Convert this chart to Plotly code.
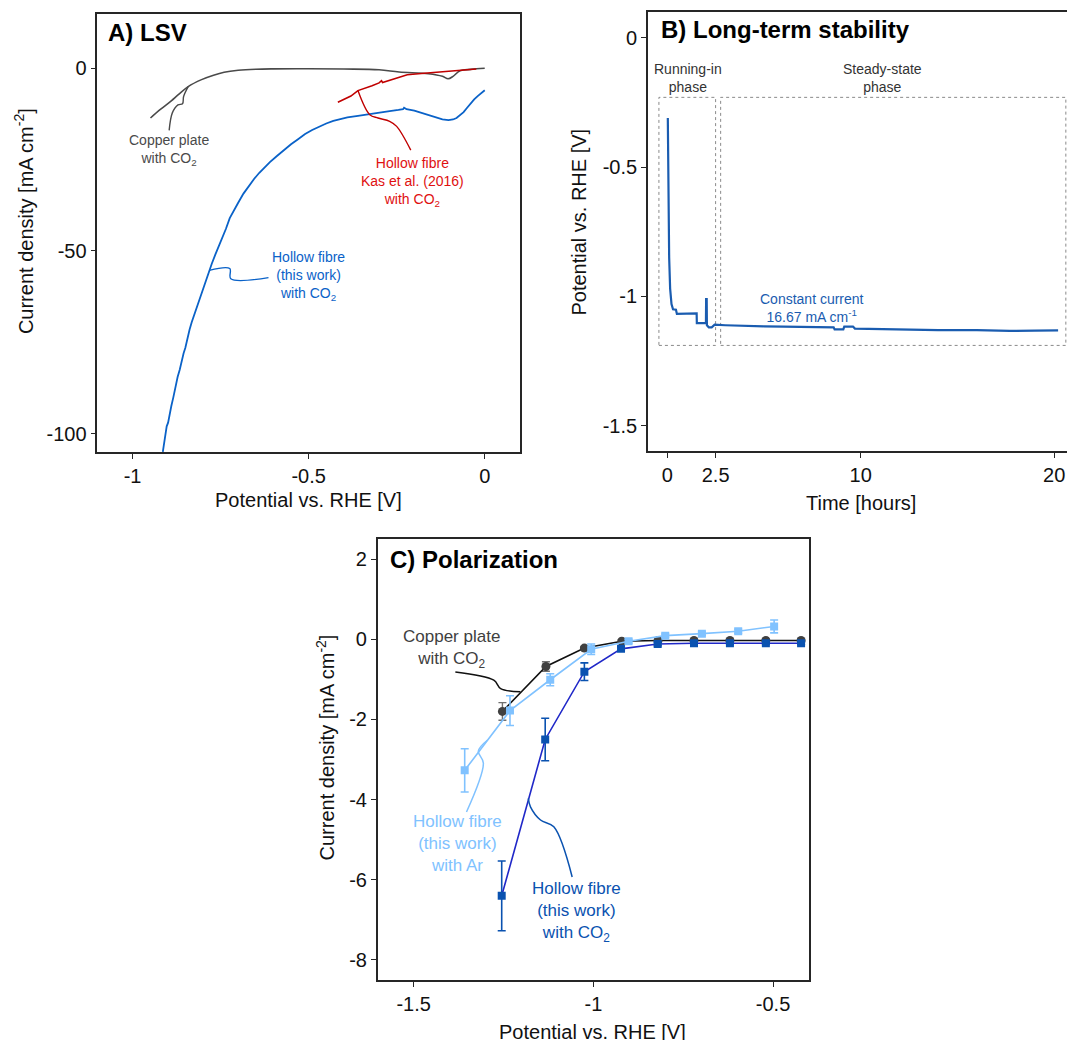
import plotly.graph_objects as go

FONT = "Liberation Sans, Arial, sans-serif"

# ---------------- Panel A: LSV ----------------
lsv_cu_x = [-0.949, -0.92, -0.89, -0.87, -0.842, -0.804, -0.77, -0.74, -0.70, -0.65, -0.60, -0.50,
            -0.40, -0.30, -0.243, -0.16, -0.12, -0.104, -0.09, -0.07, -0.04, 0.0]
lsv_cu_y = [-13.6, -11.2, -8.9, -7.2, -5.0, -3.1, -1.9, -1.1, -0.55, -0.25, -0.15, -0.1,
            -0.2, -0.4, -1.0, -1.5, -2.2, -2.85, -2.2, -0.66, -0.3, 0.0]

lsv_kas_x = [-0.417, -0.40, -0.38, -0.36, -0.34, -0.32, -0.30, -0.293, -0.29, -0.26, -0.24, -0.22,
             -0.18, -0.147, -0.11, -0.08, -0.05, -0.024]
lsv_kas_y = [-9.3, -8.6, -7.6, -6.1, -5.5, -4.8, -4.0, -3.4, -3.9, -3.0, -2.2, -1.75,
             -1.4, -1.1, -0.9, -0.66, -0.4, -0.2]

lsv_hf_x = [-0.914, -0.910, -0.906, -0.903, -0.899, -0.895, -0.890, -0.884, -0.878, -0.872, -0.866,
            -0.861, -0.855, -0.850, -0.845, -0.838, -0.832, -0.825, -0.818, -0.81, -0.803, -0.797,
            -0.79, -0.782, -0.775, -0.765, -0.755, -0.745, -0.735, -0.724, -0.712, -0.70, -0.685,
            -0.67, -0.655, -0.64, -0.625, -0.61, -0.59, -0.57, -0.55, -0.53, -0.51, -0.49, -0.47,
            -0.45, -0.43, -0.41, -0.39, -0.36, -0.33, -0.30, -0.27, -0.245, -0.232, -0.229, -0.222,
            -0.20, -0.18, -0.16, -0.14, -0.12, -0.103, -0.09, -0.08, -0.07, -0.06, -0.05, -0.04,
            -0.03, -0.02, -0.01, 0.0]
lsv_hf_y = [-105, -102.5, -100.5, -98, -97, -94.5, -92.5, -90, -87, -84.5, -82.5,
            -80, -78, -76.5, -74, -71.5, -69.5, -67.5, -65.5, -63, -61, -59.5,
            -57.5, -55.3, -53.5, -51, -48.8, -46.5, -44, -41, -38.8, -36.8, -34.3,
            -32.2, -30.3, -28.6, -27.1, -25.7, -24.0, -22.3, -20.8, -19.4, -18.0, -16.9, -15.9,
            -15.1, -14.4, -13.8, -13.4, -13.0, -12.5, -12.0, -11.7, -11.4, -11.2, -10.8, -11.2,
            -11.6, -12.2, -12.8, -13.5, -14.0, -14.2, -14.0, -13.6, -12.9, -12.0, -10.8, -9.6,
            -8.5, -7.6, -6.8, -6.0]

# label leader lines (data units of panel A)
lead_a_cu_x = [-0.896, -0.887, -0.871, -0.858, -0.855, -0.842]
lead_a_cu_y = [-17.0, -12.2, -10.0, -9.7, -7.7, -5.0]
lead_a_kas_x = [-0.36, -0.3265, -0.303, -0.27, -0.25, -0.21]
lead_a_kas_y = [-6.1, -12.7, -13.6, -14.5, -15.9, -22.4]
lead_a_hf_x = [-0.782, -0.724, -0.721, -0.614]
lead_a_hf_y = [-55.3, -54.8, -57.6, -57.3]

# ---------------- Panel B: long-term stability ----------------
stab_t = [0.03, 0.06, 0.10, 0.15, 0.22, 0.30, 0.45, 0.50, 1.00, 1.52, 1.53, 2.00, 2.01, 2.04, 2.05,
          2.15, 2.30, 2.45, 3.0, 4.0, 5.0, 6.0, 7.0, 8.0, 8.6, 8.65, 9.1, 9.15, 9.6, 9.7, 11.0,
          11.7, 14.0, 16.0, 17.7, 19.0, 20.2]
stab_v = [-0.31, -0.60, -0.85, -0.97, -1.03, -1.05, -1.052, -1.068, -1.066, -1.066, -1.104, -1.104,
          -1.011, -1.011, -1.112, -1.12, -1.12, -1.11, -1.112, -1.115, -1.116, -1.117, -1.118, -1.118,
          -1.12, -1.128, -1.128, -1.117, -1.117, -1.125, -1.127, -1.13, -1.131, -1.131, -1.134,
          -1.133, -1.132]
box_run = [-0.43, 2.5, -1.19, -0.23]      # x0, x1, y0, y1
box_steady = [2.76, 20.6, -1.19, -0.23]

# ---------------- Panel C: polarization ----------------
pol_cu_x = [-1.253, -1.132, -1.025, -0.921, -0.82, -0.72, -0.62, -0.52, -0.422]
pol_cu_y = [-1.8, -0.68, -0.22, -0.05, -0.03, -0.03, -0.03, -0.03, -0.03]
pol_cu_err = [0.22, 0.12, 0.04, 0.03, 0.03, 0.03, 0.03, 0.03, 0.03]

pol_ar_x = [-1.358, -1.232, -1.12, -1.006, -0.902, -0.80, -0.698, -0.597, -0.497]
pol_ar_y = [-3.27, -1.78, -1.01, -0.25, -0.05, 0.09, 0.14, 0.2, 0.32]
pol_ar_err = [0.54, 0.37, 0.15, 0.13, 0.05, 0.04, 0.04, 0.05, 0.16]

pol_hf_x = [-1.255, -1.134, -1.025, -0.923, -0.821, -0.72, -0.62, -0.52, -0.422]
pol_hf_y = [-6.40, -2.50, -0.81, -0.24, -0.12, -0.1, -0.1, -0.1, -0.1]
pol_hf_err = [0.87, 0.53, 0.22, 0.05, 0.04, 0.03, 0.03, 0.03, 0.03]

lead_c_cu_x = [-1.384, -1.277, -1.258, -1.203]
lead_c_cu_y = [-0.815, -1.02, -1.23, -1.31]
lead_c_ar_x = [-1.353, -1.306, -1.320, -1.295]
lead_c_ar_y = [-4.31, -3.09, -2.79, -2.52]
lead_c_hf_x = [-1.059, -1.110, -1.147, -1.175, -1.181]
lead_c_hf_y = [-5.93, -4.68, -4.51, -4.18, -3.97]

C_GRAY = "#4a4a4a"
C_RED = "#c00000"
C_RED_T = "#e01010"
C_BLUE = "#0a62c8"
C_BSTAB = "#1a5cb0"
C_LIGHT = "#80c2ff"
C_DARKB = "#0a52b0"
C_DARKL = "#2028c8"

fig = go.Figure()

def line(x, y, color, width, xa, ya, shape="linear"):
    fig.add_trace(go.Scatter(x=x, y=y, mode="lines", line=dict(color=color, width=width, shape=shape),
                             xaxis=xa, yaxis=ya, hoverinfo="skip", showlegend=False))

# Panel A traces
line(lsv_cu_x, lsv_cu_y, C_GRAY, 1.6, "x", "y", "spline")
line(lsv_kas_x, lsv_kas_y, C_RED, 1.6, "x", "y")
line(lsv_hf_x, lsv_hf_y, C_BLUE, 1.8, "x", "y")
line(lead_a_cu_x, lead_a_cu_y, C_GRAY, 1.4, "x", "y", "spline")
line(lead_a_kas_x, lead_a_kas_y, C_RED, 1.4, "x", "y", "spline")
line(lead_a_hf_x, lead_a_hf_y, C_BLUE, 1.4, "x", "y", "spline")

# Panel B
line(stab_t, stab_v, C_BSTAB, 2.2, "x2", "y2")

# Panel C
fig.add_trace(go.Scatter(x=pol_cu_x, y=pol_cu_y, mode="lines+markers",
                         line=dict(color="#111111", width=1.6),
                         marker=dict(symbol="circle", size=9, color="#404040"),
                         error_y=dict(type="data", array=pol_cu_err, color="#707070", thickness=1.4, width=4),
                         xaxis="x3", yaxis="y3", hoverinfo="skip", showlegend=False))
fig.add_trace(go.Scatter(x=pol_hf_x, y=pol_hf_y, mode="lines+markers",
                         line=dict(color=C_DARKL, width=1.6),
                         marker=dict(symbol="square", size=8, color=C_DARKB),
                         error_y=dict(type="data", array=pol_hf_err, color=C_DARKB, thickness=1.6, width=4),
                         xaxis="x3", yaxis="y3", hoverinfo="skip", showlegend=False))
fig.add_trace(go.Scatter(x=pol_ar_x, y=pol_ar_y, mode="lines+markers",
                         line=dict(color=C_LIGHT, width=1.6),
                         marker=dict(symbol="square", size=8, color=C_LIGHT),
                         error_y=dict(type="data", array=pol_ar_err, color=C_LIGHT, thickness=1.6, width=4),
                         xaxis="x3", yaxis="y3", hoverinfo="skip", showlegend=False))
line(lead_c_cu_x, lead_c_cu_y, "#111111", 1.5, "x3", "y3", "spline")
line(lead_c_ar_x, lead_c_ar_y, C_LIGHT, 1.5, "x3", "y3", "spline")
line(lead_c_hf_x, lead_c_hf_y, C_DARKB, 1.5, "x3", "y3", "spline")

AX = dict(showline=True, linecolor="#262626", linewidth=1.5, ticks="outside", ticklen=5,
          tickwidth=1.2, tickcolor="#262626", showgrid=False, zeroline=False,
          tickfont=dict(family=FONT, size=20, color="#111111"))

def fmt(v):
    return "%g" % v

xa_ticks = [-1, -0.5, 0]
ya_ticks = [-100, -50, 0]
xb_ticks = [0, 2.5, 10, 20]
yb_ticks = [-1.5, -1, -0.5, 0]
xc_ticks = [-1.5, -1, -0.5]
yc_ticks = [-8, -6, -4, -2, 0, 2]

fig.update_layout(
    width=1067, height=1040, autosize=False,
    margin=dict(l=0, r=0, t=0, b=0, autoexpand=False),
    paper_bgcolor="white", plot_bgcolor="white",
    font=dict(family=FONT, size=14, color="#111111"),
    xaxis=dict(AX, domain=[0.0912, 0.4873], range=[-1.1, 0.1], anchor="y", mirror=True,
               tickvals=xa_ticks, ticktext=[fmt(v) for v in xa_ticks]),
    yaxis=dict(AX, domain=[0.5655, 0.9870], range=[-105, 15], anchor="x", mirror=True,
               tickvals=ya_ticks, ticktext=[fmt(v) for v in ya_ticks]),
    xaxis2=dict(AX, domain=[0.6072, 1.0], range=[-1, 20.66], anchor="y2", mirror=True,
                tickvals=xb_ticks, ticktext=[fmt(v) for v in xb_ticks]),
    yaxis2=dict(AX, domain=[0.5660, 0.9884], range=[-1.6, 0.1], anchor="x2", mirror=False,
                tickvals=yb_ticks, ticktext=[fmt(v) for v in yb_ticks]),
    xaxis3=dict(AX, domain=[0.3540, 0.7582], range=[-1.6, -0.4], anchor="y3", mirror=True,
                tickvals=xc_ticks, ticktext=[fmt(v) for v in xc_ticks]),
    yaxis3=dict(AX, domain=[0.0577, 0.4817], range=[-8.5, 2.5], anchor="x3", mirror=True,
                tickvals=yc_ticks, ticktext=[fmt(v) for v in yc_ticks]),
)

shapes = []
for b in (box_run, box_steady):
    shapes.append(dict(type="rect", xref="x2", yref="y2", x0=b[0], x1=b[1], y0=b[2], y1=b[3],
                       line=dict(color="#8a8a8a", width=1, dash="dot"), layer="below"))
fig.update_layout(shapes=shapes)

ann = []
def txt(text, x, y, xref, yref, size, color, bold=False, xanchor="center", angle=0):
    ann.append(dict(text=("<b>%s</b>" % text) if bold else text, x=x, y=y, xref=xref, yref=yref,
                    showarrow=False, xanchor=xanchor, yanchor="middle", textangle=angle,
                    font=dict(family=FONT, size=size, color=color), align="center"))

# panel titles
txt("A) LSV", 0.0992, 0.9688, "paper", "paper", 24, "#000000", True, "left")
txt("B) Long-term stability", 0.6179, 0.9717, "paper", "paper", 24, "#000000", True, "left")
txt("C) Polarization", 0.3639, 0.4625, "paper", "paper", 24, "#000000", True, "left")

# axis titles
txt("Potential vs. RHE [V]", 0.2890, 0.5192, "paper", "paper", 20, "#111111")
txt("Current density [mA cm<sup>-2</sup>]", 0.0222, 0.7871, "paper", "paper", 20, "#111111", angle=-90)
txt("Time [hours]", 0.8069, 0.5168, "paper", "paper", 20, "#111111")
txt("Potential vs. RHE [V]", 0.5424, 0.7867, "paper", "paper", 20, "#111111", angle=-90)
txt("Potential vs. RHE [V]", 0.5553, 0.0077, "paper", "paper", 20, "#111111")
txt("Current density [mA cm<sup>-2</sup>]", 0.3046, 0.2813, "paper", "paper", 20, "#111111", angle=-90)

# panel A labels
txt("Copper plate<br>with CO<sub>2</sub>", -0.896, -22.4, "x", "y", 14, "#4a4a4a")
txt("Hollow fibre<br>Kas et al. (2016)<br>with CO<sub>2</sub>", -0.2044, -31.1, "x", "y", 14, C_RED_T)
txt("Hollow fibre<br>(this work)<br>with CO<sub>2</sub>", -0.5017, -56.9, "x", "y", 14, C_BLUE)

# panel B labels
txt("Running-in<br>phase", 1.08, -0.155, "x2", "y2", 14, "#333333")
txt("Steady-state<br>phase", 11.15, -0.155, "x2", "y2", 14, "#333333")
txt("Constant current<br>16.67 mA cm<sup>-1</sup>", 7.47, -1.045, "x2", "y2", 14, C_BSTAB)

# panel C labels
txt("Copper plate<br>with CO<sub>2</sub>", -1.396, -0.25, "x3", "y3", 17, "#404040")
txt("Hollow fibre<br>(this work)<br>with Ar", -1.377, -5.09, "x3", "y3", 17, C_LIGHT)
txt("Hollow fibre<br>(this work)<br>with CO<sub>2</sub>", -1.047, -6.80, "x3", "y3", 17, C_DARKB)

fig.update_layout(annotations=ann)
fig.write_html("out.html", config={"displayModeBar": False},
               post_script="document.body.style.margin='0';document.body.style.overflow='hidden';")
